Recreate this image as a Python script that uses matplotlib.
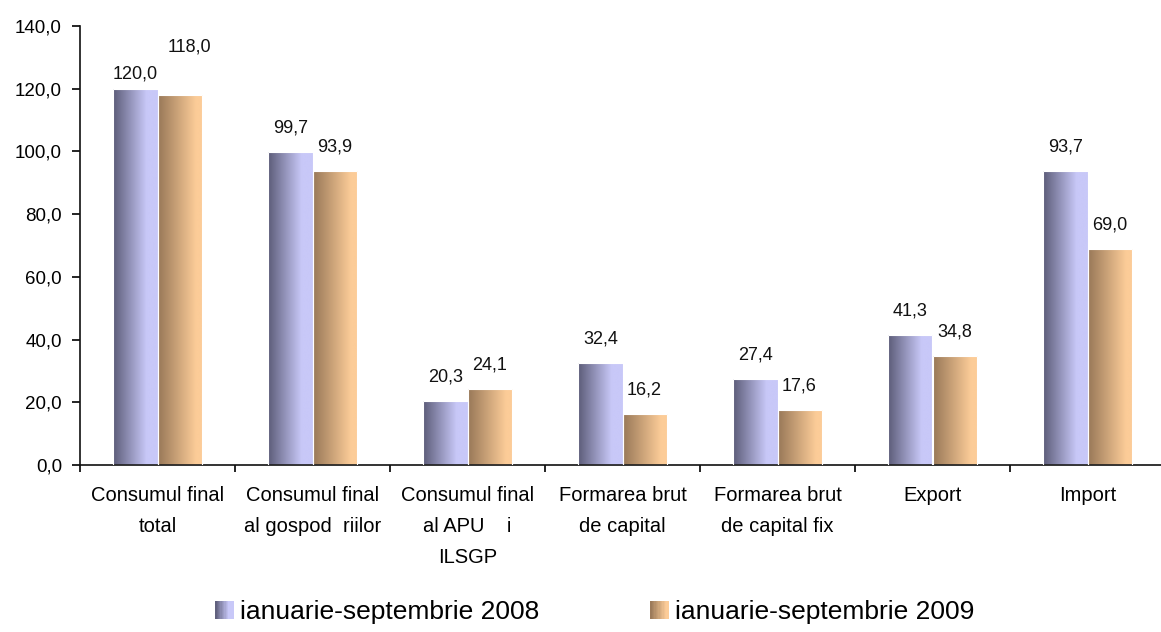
import numpy as np
import matplotlib
matplotlib.use('Agg')
import matplotlib.pyplot as plt
from matplotlib.colors import LinearSegmentedColormap
from matplotlib.patches import Rectangle
from matplotlib.legend_handler import HandlerBase

plt.rcParams['font.family'] = ['Liberation Sans', 'DejaVu Sans']

# data
categories = ['Consumul final\ntotal', 'Consumul final\nal gospod  riilor',
              'Consumul final\nal APU    i\nILSGP', 'Formarea brut\nde capital',
              'Formarea brut\nde capital fix', 'Export', 'Import']
values_2008 = [120.0, 99.7, 20.3, 32.4, 27.4, 41.3, 93.7]
values_2009 = [118.0, 93.9, 24.1, 16.2, 17.6, 34.8, 69.0]
series_names = ['ianuarie-septembrie 2008', 'ianuarie-septembrie 2009']

# gradient colours (dark on the left, light on the right)
cmap_2008 = LinearSegmentedColormap.from_list('s08', [(0, '#5c5c78'), (0.75, '#c8c8f8'), (1, '#c8c8f8')])
cmap_2009 = LinearSegmentedColormap.from_list('s09', [(0, '#987858'), (0.85, '#fccc98'), (1, '#fccc98')])

# label offsets in pixels (dx, dy); first group was nudged in the original
label_offsets_2008 = [(0, 15)] + [(0, 24)] * 6
label_offsets_2009 = [(10, 48)] + [(0, 24)] * 6


class GradientHandler(HandlerBase):
    def __init__(self, cmap, n=14):
        super().__init__()
        self.cmap = cmap
        self.n = n

    def create_artists(self, legend, orig_handle, xdescent, ydescent, width, height, fontsize, trans):
        arts = []
        for k in range(self.n):
            r = Rectangle((-xdescent + k * width / self.n, -ydescent), width / self.n + 0.05, height,
                          facecolor=self.cmap((k + 0.5) / self.n), linewidth=0, transform=trans)
            arts.append(r)
        return arts


fig = plt.figure(figsize=(11.61, 6.32), dpi=100)
ax = fig.add_axes([80 / 1161, (632 - 465) / 632, (1165 - 80) / 1161, (465 - 26) / 632])

x = np.arange(len(categories))
w = 0.284
grad = np.linspace(0, 1, 256).reshape(1, -1)

handles = []
for vals, cmap, offs, shift in [(values_2008, cmap_2008, label_offsets_2008, -w / 2),
                                 (values_2009, cmap_2009, label_offsets_2009, w / 2)]:
    bars = ax.bar(x + shift, vals, w, facecolor='none', edgecolor='white', linewidth=0.8, zorder=3)
    handles.append(bars)
    for b, v, (dx, dy) in zip(bars, vals, offs):
        x0 = b.get_x()
        im = ax.imshow(grad, cmap=cmap, extent=[x0, x0 + b.get_width(), 0, v],
                       aspect='auto', zorder=2, interpolation='bilinear')
        im.set_clip_path(b)
        ax.annotate(f'{v:.1f}'.replace('.', ','), (x0 + b.get_width() / 2, v),
                    xytext=(dx * 0.72, dy * 0.72), textcoords='offset points',
                    ha='center', va='center', fontsize=13, color='#111111')

ax.set_xlim(-0.5, len(categories) - 0.5)
ax.set_ylim(0, 140)
ax.set_yticks(np.arange(0, 141, 20))
ax.set_yticklabels([f'{t:.1f}'.replace('.', ',') for t in np.arange(0, 141, 20)], fontsize=13.5)

ax.set_xticks(x)
ax.set_xticklabels(categories, fontsize=14.5, linespacing=1.8)
ax.set_xticks(np.arange(-0.5, len(categories)), minor=True)
ax.tick_params(axis='x', which='major', length=0, pad=15)
ax.tick_params(axis='x', which='minor', length=5, width=1.2, direction='out')
ax.tick_params(axis='y', length=6, width=1.2, direction='out', pad=7)

for s in ['top', 'right']:
    ax.spines[s].set_visible(False)
for s in ['left', 'bottom']:
    ax.spines[s].set_linewidth(1.2)
    ax.spines[s].set_color('#111111')

fig.legend(handles, series_names, loc='center', bbox_to_anchor=(595 / 1161, 1 - 612 / 632),
           ncol=2, frameon=False, fontsize=19, handlelength=0.7, handleheight=0.7,
           handletextpad=0.25, columnspacing=4.2,
           handler_map={handles[0]: GradientHandler(cmap_2008), handles[1]: GradientHandler(cmap_2009)})

fig.savefig('out.png', dpi=100)
